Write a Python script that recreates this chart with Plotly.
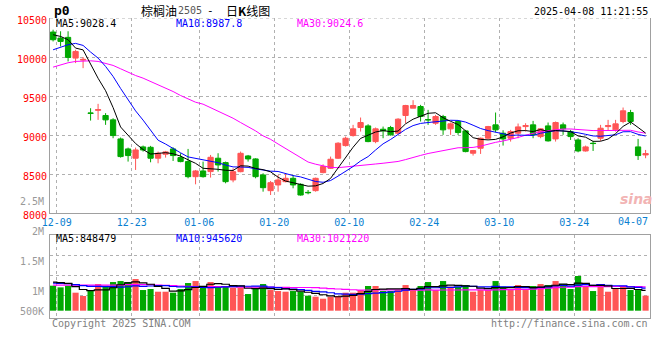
import plotly.graph_objects as go

# ---------------- data ----------------
open_ = [10320, 10243, 10252, 9987, 9961, 9284, 9318, 9252, 9196, 8952,
         8824, 8705, 8850, 8845, 8705, 8756, 8824, 8713, 8662, 8469,
         8542, 8534, 8705, 8649, 8427, 8533, 8734, 8696, 8491, 8290,
         8363, 8405, 8448, 8371, 8268, 8290, 8521, 8576, 8705, 8867,
         8995, 9098, 9119, 8918, 9076, 9098, 9025, 9252, 9346, 9367,
         9200, 9153, 9239, 9081, 9175, 9055, 8769, 8833, 8961, 9132,
         9025, 8961, 9025, 9110, 9132, 8982, 9119, 8952, 9132, 9046,
         8939, 8798, 8897, 8961, 9110, 9068, 9175, 9290, 8850, 8747]
high = [10350, 10330, 10330, 10094, 10000, 9345, 9401, 9282, 9217, 8970,
        8841, 8841, 8867, 8863, 8790, 8799, 8845, 8769, 8824, 8555,
        8662, 8747, 8769, 8662, 8576, 8790, 8747, 8705, 8512, 8414,
        8491, 8503, 8491, 8384, 8298, 8457, 8627, 8726, 8910, 8982,
        9132, 9226, 9140, 9098, 9110, 9119, 9217, 9388, 9448, 9388,
        9324, 9260, 9260, 9162, 9183, 9068, 8811, 8970, 9119, 9290,
        9063, 9068, 9149, 9153, 9183, 9089, 9162, 9175, 9162, 9068,
        8961, 8867, 8927, 9132, 9196, 9196, 9354, 9324, 8952, 8811]
low = [10200, 10136, 9944, 9923, 9858, 9187, 9196, 9132, 8961, 8713,
       8662, 8555, 8790, 8653, 8640, 8713, 8670, 8653, 8448, 8371,
       8457, 8457, 8534, 8384, 8397, 8525, 8662, 8448, 8277, 8234,
       8277, 8397, 8320, 8226, 8243, 8277, 8512, 8568, 8696, 8854,
       8982, 9046, 8910, 8897, 8961, 8995, 9012, 9153, 9346, 9175,
       9132, 9132, 9004, 9004, 9004, 8781, 8739, 8760, 8948, 9038,
       8867, 8918, 8961, 9046, 8961, 8961, 8918, 8918, 9004, 8939,
       8781, 8790, 8798, 8927, 9055, 9046, 9153, 9132, 8683, 8705]
close = [10222, 10200, 9995, 10072, 9970, 9280, 9327, 9196, 8995, 8726,
         8739, 8811, 8811, 8705, 8769, 8786, 8739, 8662, 8469, 8542,
         8469, 8717, 8619, 8405, 8533, 8768, 8696, 8469, 8328, 8392,
         8427, 8448, 8363, 8234, 8264, 8448, 8598, 8692, 8897, 8961,
         9081, 9162, 8918, 9081, 9055, 9004, 9205, 9380, 9380, 9239,
         9196, 9239, 9068, 9145, 9034, 8790, 8803, 8961, 9110, 9068,
         8952, 9046, 9106, 9123, 9004, 9081, 8927, 9162, 9081, 8982,
         8798, 8850, 8893, 9089, 9123, 9145, 9312, 9175, 8739, 8764]
volume = [1043000, 973000, 1043000, 751000, 612000, 820000, 1112000, 1043000, 1195000, 1237000,
          1195000, 1321000, 862000, 904000, 792000, 792000, 751000, 904000, 1154000, 1237000,
          1029000, 1195000, 1029000, 1029000, 959000, 973000, 695000, 959000, 1112000, 862000,
          820000, 792000, 820000, 792000, 626000, 584000, 500000, 584000, 612000, 751000,
          751000, 862000, 1029000, 1029000, 820000, 820000, 862000, 1070000, 862000, 1029000,
          1195000, 862000, 1237000, 1001000, 1001000, 1070000, 792000, 862000, 862000, 1237000,
          1001000, 862000, 1070000, 862000, 1029000, 1112000, 1070000, 1237000, 1112000, 904000,
          1446000, 1001000, 820000, 1112000, 792000, 904000, 1001000, 862000, 862000, 626000]

# moving-average values at the left edge (their windows start before the chart)
ma5_head = [10286, 10264, 10222, 10115]
ma10_head = [10093, 10123, 10158, 10175, 10149, 10064, 9987, 9880, 9752]
ma30_head = [9871, 9901, 9927, 9944, 9952, 9952, 9944, 9923, 9893, 9850,
             9803, 9764, 9730, 9687, 9645, 9610, 9559, 9508, 9465, 9422,
             9397, 9354, 9311, 9269, 9217, 9162, 9110, 9055, 8991]
vma5_head = [1195000, 1168000, 1140000, 1001000]
vma10_head = [1154000, 1140000, 1126000, 1084000, 1043000, 1015000, 1015000, 1001000, 1001000]
vma30_head = [1070000, 1070000, 1070000, 1070000, 1070000, 1070000, 1070000, 1070000, 1070000, 1070000,
              1084000, 1084000, 1084000, 1084000, 1070000, 1056000, 1043000, 1029000, 1015000, 1001000,
              1001000, 1001000, 1001000, 1001000, 1001000, 987000, 987000, 987000, 987000]

tick_pos = [1, 11, 20, 30, 40, 50, 60, 70]
tick_text = ["12-09", "12-23", "01-06", "01-20", "02-10", "02-24", "03-10", "03-24"]
last_label = "04-07"
price_ticks = [8000, 8500, 9000, 9500, 10000, 10500]
vol_labels = ["2.5M", "2M", "1.5M", "1M", "500K"]

ma_legend = ["MA5:9028.4", "MA10:8987.8", "MA30:9024.6"]
vma_legend = ["MA5:848479", "MA10:945620", "MA30:1021220"]

# ---------------- helpers ----------------
def sma(vals, n, head):
    out = list(head)
    for i in range(len(head), len(vals)):
        out.append(sum(vals[i - n + 1:i + 1]) / n)
    return out

idx = list(range(len(close)))
ma5 = sma(close, 5, ma5_head)
ma10 = sma(close, 10, ma10_head)
ma30 = sma(close, 30, ma30_head)
vma5 = sma(volume, 5, vma5_head)
vma10 = sma(volume, 10, vma10_head)
vma30 = sma(volume, 30, vma30_head)

RED = "#ff5555"
GREEN = "#00a800"
GRID = "#b0b0b0"
FRAME = "#a0a0a0"
MONO = "DejaVu Sans Mono"
CJK = "Noto Sans CJK SC"

PL, PR, PT, PB = 50, 650, 18, 318
def px(x, y):
    return (x - PL) / (PR - PL), (PB - y) / (PB - PT)

bar_colors = [RED if c >= o else GREEN for o, c in zip(open_, close)]

fig = go.Figure()
fig.add_trace(go.Candlestick(
    x=idx, open=open_, high=high, low=low, close=close,
    increasing=dict(line=dict(color=RED, width=1), fillcolor=RED),
    decreasing=dict(line=dict(color=GREEN, width=1), fillcolor=GREEN),
    whiskerwidth=0, xaxis="x", yaxis="y", hoverinfo="skip"))
for ser, col in [(ma30, "#ff00ff"), (ma10, "#0000ff"), (ma5, "#000000")]:
    fig.add_trace(go.Scatter(x=idx, y=ser, mode="lines", line=dict(color=col, width=1),
                             xaxis="x", yaxis="y", hoverinfo="skip"))

fig.add_trace(go.Bar(x=idx, y=volume, width=0.82, marker=dict(color=bar_colors, line=dict(width=0)),
                     xaxis="x2", yaxis="y2", hoverinfo="skip"))
for ser, col in [(vma30, "#ff00ff"), (vma10, "#0000ff"), (vma5, "#000000")]:
    fig.add_trace(go.Scatter(x=idx, y=ser, mode="lines", line=dict(color=col, width=1.2, shape="hvh"),
                             xaxis="x2", yaxis="y2", hoverinfo="skip"))

# volume axis: 0 at y=310.7px, 41.7K per px
K = 41700
vbase = 310.7
vol_range = [-(PB - vbase) * K, (vbase - 235) * K]
vol_grid = [(vbase - y) * K for y in (255, 275, 295)]

xr = [-0.41, 79.59]
grid_x = [p - 0.5 for p in tick_pos]
main_bottom = 213.3

fig.update_layout(
    template="none",
    width=660, height=360, margin=dict(l=PL, r=660 - PR, t=PT, b=360 - PB, autoexpand=False),
    paper_bgcolor="white", plot_bgcolor="white", showlegend=False,
    boxgap=0.3, boxgroupgap=0,
    xaxis=dict(domain=[0, 1], range=xr, anchor="y", tickmode="array", tickvals=grid_x, ticktext=tick_text,
               tickfont=dict(family=MONO, size=10, color="#0a7fd1"), showgrid=True, gridcolor=GRID,
               griddash="dot", gridwidth=1, showline=True, linecolor=FRAME, linewidth=1, ticks="",
               zeroline=False, rangeslider=dict(visible=False), fixedrange=True, automargin=False),
    yaxis=dict(domain=[(PB - main_bottom) / (PB - PT), 1], range=[8000, 10500], tickmode="array",
               tickvals=price_ticks, ticktext=[str(v) for v in price_ticks],
               tickfont=dict(family=MONO, size=10, color="#ff0000"), showgrid=True, gridcolor=GRID,
               griddash="dot", showline=True, mirror=True, linecolor=FRAME, ticks="", zeroline=False,
               ticklabelshift=2, automargin=False),
    xaxis2=dict(domain=[0, 1], range=xr, anchor="y2", matches="x", tickmode="array", tickvals=grid_x,
                showticklabels=False, showgrid=True, gridcolor=GRID, griddash="dot", showline=True,
                mirror=True, linecolor=FRAME, ticks="", zeroline=False, automargin=False),
    yaxis2=dict(domain=[0, (PB - 235) / (PB - PT)], range=vol_range, tickmode="array", tickvals=vol_grid,
                showticklabels=False, showgrid=True, gridcolor=GRID, griddash="dot", showline=True,
                mirror=True, linecolor=FRAME, ticks="", zeroline=False, automargin=False),
)

# top dotted edge of the price panel
fig.add_shape(type="line", xref="paper", yref="y", x0=0, x1=1, y0=10500, y1=10500,
              line=dict(color=GRID, width=1, dash="dot"))

ann = []
def text(x, y, s, color="#000", size=10, family=MONO, xanchor="left"):
    ax, ay = px(x, y)
    ann.append(dict(x=ax, y=ay, xref="paper", yref="paper", text=s, showarrow=False,
                    xanchor=xanchor, yanchor="middle", font=dict(family=family, size=size, color=color)))

text(52, 10, "<b>p0</b>", size=13)
text(139, 10, "棕榈油", family=CJK, size=12)
text(176, 10.5, "2505", color="#555", size=10)
text(210, 10, "-", size=11, xanchor="center")
text(224, 10, "日<b>K</b>线图", family=CJK, size=12)
text(650, 11.7, "2025-04-08 11:21:55", xanchor="right")

for s, x, c in zip(ma_legend, (54, 174, 295), ("#000", "#0000ff", "#ff00ff")):
    text(x, 23.7, s, color=c)
for s, x, c in zip(vma_legend, (54, 174, 295), ("#000", "#0000ff", "#ff00ff")):
    text(x, 238.5, s, color=c)

for s, y in zip(vol_labels, (201, 231, 261, 291, 311)):
    text(46, y, s, color="#999999", xanchor="right")

text(650, 221.7, last_label, color="#0a7fd1", xanchor="right")
text(50, 323, "Copyright 2025 SINA.COM", color="#808080")
text(650, 323, "http://finance.sina.com.cn", color="#808080", xanchor="right")
text(636, 199, "<i><b>sina</b></i>", color="#f2b4b4", size=14, family="DejaVu Sans", xanchor="center")

fig.update_layout(annotations=ann)
fig.write_html("out.html", config={"displayModeBar": False},
               post_script="document.body.style.margin='0';document.body.style.padding='0';")
